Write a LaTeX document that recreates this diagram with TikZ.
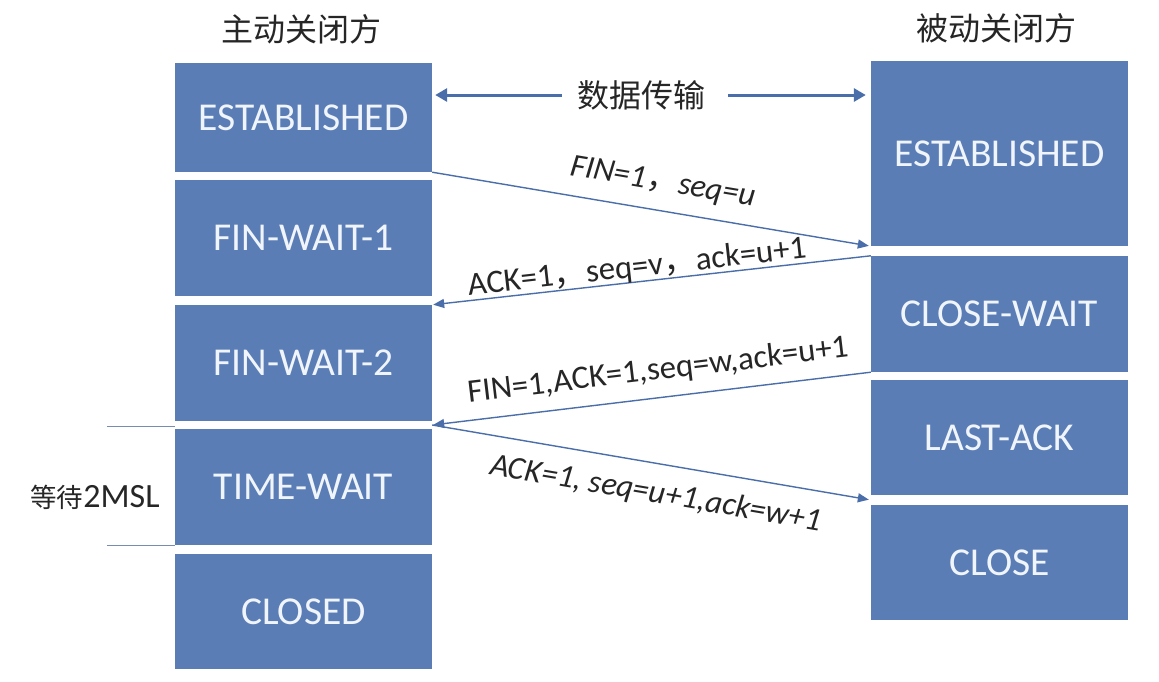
\documentclass[tikz,border=0pt]{standalone}
\usepackage{fontspec}
\setmainfont{Carlito}
\newfontfamily\cjk{Noto Sans CJK SC}
\usetikzlibrary{arrows.meta,calc}
\definecolor{boxblue}{RGB}{91,125,182}
\definecolor{arrowblue}{RGB}{74,110,170}
\definecolor{boxtext}{RGB}{240,245,252}
\definecolor{titletext}{RGB}{38,38,38}
\definecolor{mslline}{RGB}{120,140,175}
\begin{document}
\begin{tikzpicture}[x=1pt,y=-1pt,
  state/.style={fill=boxblue, draw=none, minimum width=257pt, text=boxtext,
    font=\fontsize{39.5}{41}\selectfont, inner sep=0pt},
  msg/.style={draw=arrowblue, line width=1.4pt, -{Triangle[length=11pt,width=9pt]}},
  data/.style={draw=arrowblue, line width=3pt, -{Triangle[length=12pt,width=13pt]}},
  lbl/.style={text=titletext, font=\fontsize{32.8}{34}\selectfont, inner sep=0pt},
  ilbl/.style={text=titletext, font=\fontsize{32.5}{34}\selectfont\itshape, inner sep=0pt},
  ttl/.style={text=titletext, font=\cjk\fontsize{32}{34}\selectfont, inner sep=0pt}]
\useasboundingbox[fill=white] (0,0) rectangle (1159,681);

% titles
\node[ttl] (tl) at (301,29) {主动关闭方};
\node[ttl] (tr) at (996,28) {被动关闭方};

% left column
\node[state, minimum height=109pt] (L1) at (303.5,117.5) {ESTABLISHED};
\node[state, minimum height=116pt] (L2) at (303.5,238) {FIN-WAIT-1};
\node[state, minimum height=116pt] (L3) at (303.5,363) {FIN-WAIT-2};
\node[state, minimum height=116pt] (L4) at (303.5,487) {TIME-WAIT};
\node[state, minimum height=115pt] (L5) at (303.5,611.5) {CLOSED};

% right column
\node[state, minimum height=185pt] (R1) at (999.5,153.5) {ESTABLISHED};
\node[state, minimum height=116pt] (R2) at (999.5,314) {CLOSE-WAIT};
\node[state, minimum height=115pt] (R3) at (999.5,437.5) {LAST-ACK};
\node[state, minimum height=115pt] (R4) at (999.5,562.5) {CLOSE};

% data transfer
\node[ttl] (dt) at (641,95) {数据传输};
\draw[data, shorten <=15pt, shorten >=3pt] (dt.west) -- (dt.west -| L1.east);
\draw[data, shorten <=23pt, shorten >=5pt] (dt.east) -- (dt.east -| R1.west);

% connection points
\coordinate (pL) at ($(L3.south east)!.5!(L4.north east)$);
\coordinate (pR) at ($(R3.south west)!.5!(R4.north west)$);

% messages
\draw[msg, shorten >=2pt] (L1.south east) -- (R1.south west);
\draw[msg, shorten >=1pt] (R2.north west) -- (L3.north east);
\draw[msg, shorten >=1pt] (R2.south west) -- (pL);
\draw[msg, shorten >=2pt] (pL) -- (pR);

% labels
\node[ilbl, rotate=-9.6] (m1) at (663,183) {FIN=1{\cjk ，}seq=u};
\node[lbl, rotate=6.4] (m2) at (637,268) {ACK=1{\cjk ，}seq=v{\cjk ，}ack=u+1};
\node[lbl, rotate=6.8] (m3) at (658,371) {FIN=1,ACK=1,seq=w,ack=u+1};
\node[ilbl, rotate=-9.7] (m4) at (656,494) {ACK=1, seq=u+1,ack=w+1};

% 2MSL
\coordinate (a1) at ($(L4.north west)+(-68,-2)$);
\coordinate (a2) at ($(L4.south west)+(-68,0)$);
\draw[mslline, line width=1pt] (a1) -- (L4.north west |- a1);
\draw[mslline, line width=1pt] (a2) -- (L4.south west);
\node[text=titletext, inner sep=0pt] (msl) at (95,497) {{\cjk\fontsize{26.5}{28}\selectfont 等待}{\fontsize{34}{36}\selectfont 2MSL}};
\end{tikzpicture}
\end{document}
